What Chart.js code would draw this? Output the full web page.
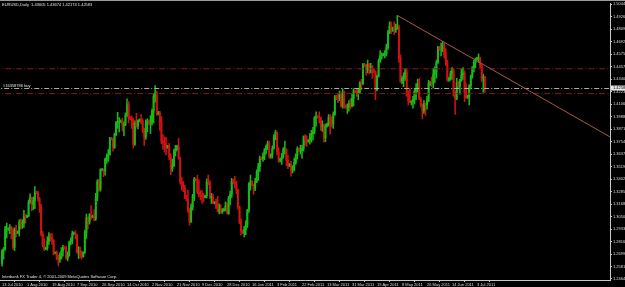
<!DOCTYPE html>
<html><head><meta charset="utf-8">
<script src="https://cdn.jsdelivr.net/npm/chart.js@4/dist/chart.umd.min.js"></script>
<style>html,body{margin:0;padding:0;background:#000;overflow:hidden}canvas{display:block}</style>
</head><body>
<canvas id="c" width="625" height="287"></canvas>
<script>
const symbolTitle = 'EURUSD,Daily  1.43605 1.43674 1.42174 1.42583';
const footerText = 'Interbank FX Trader 4, \u00A9 2001-2009 MetaQuotes Software Corp.';
const dateLabels = ['13 Jul 2010','1 Aug 2010','19 Aug 2010','7 Sep 2010','26 Sep 2010','14 Oct 2010','2 Nov 2010','21 Nov 2010','9 Dec 2010','28 Dec 2010','16 Jan 2011','3 Feb 2011','22 Feb 2011','13 Mar 2011','31 Mar 2011','19 Apr 2011','8 May 2011','26 May 2011','14 Jun 2011','3 Jul 2011'];
const dateTickIndex = [0,16,32,48,64,80,96,112,128,144,160,176,192,208,224,240,256,272,288,304];
const priceTicks = [1.50440,1.49268,1.48095,1.46923,1.45750,1.44578,1.43405,1.42233,1.41060,1.39888,1.38715,1.37543,1.36370,1.35198,1.34025,1.32853,1.31680,1.30508,1.29335,1.28163,1.26990,1.25818,1.24645];

const opens = [
1.2610,1.2730,1.2745,1.2935,1.2930,1.2935,1.2945,1.2925,1.2760,1.2930,
1.2900,1.2910,1.2995,1.2985,1.2990,1.3050,1.3045,1.3060,1.3185,1.3230,
1.3160,1.3200,1.3280,1.3275,1.3220,1.3155,1.2890,1.2780,1.2750,1.2755,
1.2820,1.2880,1.2850,1.2830,1.2710,1.2715,1.2665,1.2650,1.2670,1.2725,
1.2760,1.2755,1.2660,1.2685,1.2810,1.2830,1.2890,1.2895,1.2880,1.2720,
1.2725,1.2690,1.2675,1.2715,1.2900,1.3040,1.3000,1.3070,1.3050,1.3055,
1.3030,1.3230,1.3380,1.3310,1.3490,1.3495,1.3480,1.3590,1.3610,1.3630,
1.3790,1.3780,1.3700,1.3820,1.3930,1.3940,1.3940,1.3950,1.3910,1.3920,
1.4000,1.4100,1.3980,1.3970,1.3950,1.3730,1.3930,1.3900,1.3950,1.3960,
1.3950,1.3860,1.3800,1.3930,1.3945,1.3930,1.3930,1.4040,1.4180,1.4210,
1.4020,1.4025,1.3940,1.3760,1.3750,1.3730,1.3700,1.3710,1.3610,1.3500,
1.3530,1.3660,1.3680,1.3710,1.3600,1.3380,1.3340,1.3320,1.3240,1.3215,
1.3100,1.3000,1.3140,1.3240,1.3400,1.3395,1.3280,1.3260,1.3250,1.3240,
1.3230,1.3245,1.3380,1.3370,1.3230,1.3240,1.3180,1.3185,1.3130,1.3100,
1.3120,1.3100,1.3110,1.3120,1.3150,1.3080,1.3220,1.3260,1.3380,1.3370,
1.3350,1.3300,1.3140,1.3000,1.2910,1.2900,1.2930,1.2970,1.3110,1.3360,
1.3380,1.3350,1.3310,1.3380,1.3470,1.3520,1.3600,1.3595,1.3620,1.3680,
1.3710,1.3740,1.3620,1.3630,1.3690,1.3800,1.3840,1.3660,1.3580,1.3590,
1.3610,1.3680,1.3680,1.3580,1.3530,1.3540,1.3490,1.3520,1.3560,1.3630,
1.3690,1.3670,1.3670,1.3690,1.3800,1.3770,1.3760,1.3765,1.3800,1.3830,
1.3850,1.3980,1.3990,1.3985,1.3980,1.3900,1.3910,1.3790,1.3900,1.3920,
1.3980,1.3940,1.3920,1.4010,1.4180,1.4165,1.4160,1.4200,1.4090,1.4220,
1.4090,1.4080,1.4080,1.4110,1.4090,1.4160,1.4230,1.4225,1.4210,1.4220,
1.4310,1.4300,1.4480,1.4470,1.4430,1.4480,1.4440,1.4460,1.4430,1.4410,
1.4240,1.4370,1.4510,1.4560,1.4570,1.4575,1.4580,1.4640,1.4780,1.4840,
1.4800,1.4820,1.4810,1.4830,1.4830,1.4540,1.4320,1.4350,1.4350,1.4410,
1.4190,1.4140,1.4120,1.4130,1.4150,1.4230,1.4250,1.4300,1.4160,1.4100,
1.4040,1.4110,1.4100,1.4140,1.4300,1.4305,1.4300,1.4390,1.4410,1.4500,
1.4640,1.4620,1.4620,1.4660,1.4570,1.4510,1.4340,1.4350,1.4390,1.4420,
1.4190,1.4160,1.4310,1.4270,1.4330,1.4380,1.4400,1.4220,1.4170,1.4180,
1.4280,1.4370,1.4450,1.4500,1.4530,1.4540,1.4540,1.4470,1.4350,1.43605];

const highs = [
1.2740,1.2760,1.2960,1.2990,1.2945,1.2975,1.2960,1.2945,1.2945,1.2970,
1.2915,1.3020,1.3030,1.3020,1.3110,1.3075,1.3065,1.3205,1.3265,1.3235,
1.3235,1.3333,1.3290,1.3290,1.3230,1.3165,1.2915,1.2845,1.2765,1.2860,
1.2900,1.2890,1.2890,1.2835,1.2720,1.2730,1.2690,1.2710,1.2760,1.2780,
1.2770,1.2775,1.2720,1.2820,1.2850,1.2915,1.2905,1.2920,1.2885,1.2770,
1.2765,1.2730,1.2720,1.2925,1.3075,1.3045,1.3080,1.3155,1.3065,1.3115,
1.3270,1.3395,1.3400,1.3500,1.3505,1.3500,1.3600,1.3640,1.3680,1.3795,
1.3795,1.3785,1.3835,1.3945,1.4030,1.3980,1.3960,1.3975,1.3940,1.4025,
1.4157,1.4130,1.3990,1.3995,1.3975,1.3950,1.4020,1.3960,1.3970,1.4010,
1.3970,1.3880,1.3960,1.3970,1.3960,1.4000,1.4060,1.4200,1.4282,1.4230,
1.4040,1.4040,1.3990,1.3820,1.3800,1.3795,1.3720,1.3740,1.3640,1.3590,
1.3685,1.3720,1.3720,1.3785,1.3610,1.3420,1.3380,1.3345,1.3250,1.3300,
1.3125,1.3170,1.3260,1.3420,1.3410,1.3440,1.3395,1.3295,1.3295,1.3270,
1.3250,1.3405,1.3440,1.3390,1.3270,1.3260,1.3195,1.3215,1.3240,1.3170,
1.3160,1.3125,1.3130,1.3190,1.3180,1.3240,1.3290,1.3410,1.3400,1.3430,
1.3385,1.3310,1.3150,1.3030,1.2925,1.2960,1.3010,1.3120,1.3370,1.3440,
1.3390,1.3355,1.3410,1.3490,1.3550,1.3620,1.3610,1.3650,1.3690,1.3725,
1.3760,1.3760,1.3640,1.3715,1.3820,1.3862,1.3850,1.3700,1.3600,1.3645,
1.3700,1.3760,1.3690,1.3625,1.3550,1.3570,1.3530,1.3600,1.3640,1.3705,
1.3695,1.3720,1.3720,1.3810,1.3820,1.3810,1.3775,1.3830,1.3860,1.3890,
1.3990,1.4035,1.4000,1.4035,1.3985,1.3950,1.3920,1.3920,1.3930,1.4010,
1.4010,1.3990,1.4035,1.4190,1.4190,1.4210,1.4230,1.4210,1.4250,1.4230,
1.4100,1.4110,1.4140,1.4160,1.4200,1.4250,1.4240,1.4250,1.4245,1.4320,
1.4340,1.4490,1.4490,1.4480,1.4520,1.4490,1.4490,1.4470,1.4440,1.4420,
1.4380,1.4530,1.4610,1.4590,1.4585,1.4610,1.4670,1.4800,1.4880,1.4880,
1.4830,1.4880,1.4860,1.4940,1.4850,1.4570,1.4370,1.4400,1.4440,1.4440,
1.4230,1.4250,1.4140,1.4180,1.4250,1.4300,1.4340,1.4350,1.4170,1.4110,
1.4140,1.4120,1.4180,1.4330,1.4320,1.4360,1.4440,1.4460,1.4520,1.4650,
1.4650,1.4680,1.4698,1.4680,1.4630,1.4520,1.4360,1.4420,1.4450,1.4440,
1.4230,1.4350,1.4320,1.4340,1.4440,1.4450,1.4420,1.4300,1.4190,1.4290,
1.4380,1.4460,1.4520,1.4540,1.4550,1.4580,1.4550,1.4480,1.4390,1.43674];

const lows = [
1.2585,1.2650,1.2735,1.2850,1.2920,1.2890,1.2840,1.2745,1.2730,1.2860,
1.2890,1.2870,1.2935,1.2940,1.2950,1.2990,1.3040,1.3050,1.3175,1.3105,
1.3115,1.3125,1.3265,1.3195,1.3090,1.2870,1.2765,1.2730,1.2740,1.2735,
1.2790,1.2820,1.2790,1.2690,1.2700,1.2645,1.2588,1.2620,1.2650,1.2680,
1.2745,1.2650,1.2635,1.2680,1.2785,1.2795,1.2880,1.2840,1.2705,1.2655,
1.2665,1.2650,1.2670,1.2705,1.2845,1.2935,1.2980,1.3025,1.3040,1.3010,
1.3015,1.3200,1.3290,1.3290,1.3480,1.3425,1.3440,1.3550,1.3570,1.3630,
1.3770,1.3665,1.3690,1.3810,1.3880,1.3845,1.3935,1.3855,1.3810,1.3905,
1.3990,1.3930,1.3960,1.3880,1.3695,1.3720,1.3890,1.3875,1.3940,1.3920,
1.3840,1.3720,1.3775,1.3845,1.3915,1.3830,1.3910,1.3930,1.4125,1.4000,
1.4005,1.3860,1.3735,1.3685,1.3655,1.3630,1.3690,1.3585,1.3445,1.3475,
1.3520,1.3620,1.3670,1.3590,1.3355,1.3300,1.3285,1.3220,1.3200,1.3090,
1.2969,1.2995,1.3110,1.3200,1.3385,1.3265,1.3235,1.3210,1.3175,1.3190,
1.3225,1.3225,1.3350,1.3220,1.3175,1.3170,1.3170,1.3125,1.3095,1.3075,
1.3080,1.3080,1.3100,1.3105,1.3075,1.3070,1.3160,1.3230,1.3360,1.3320,
1.3265,1.3120,1.2985,1.2875,1.2890,1.2860,1.2880,1.2950,1.3090,1.3300,
1.3340,1.3260,1.3295,1.3370,1.3390,1.3475,1.3585,1.3570,1.3585,1.3640,
1.3680,1.3600,1.3600,1.3600,1.3685,1.3770,1.3630,1.3560,1.3565,1.3540,
1.3600,1.3640,1.3530,1.3500,1.3520,1.3430,1.3460,1.3480,1.3540,1.3590,
1.3660,1.3640,1.3600,1.3665,1.3720,1.3710,1.3750,1.3730,1.3750,1.3770,
1.3830,1.3900,1.3975,1.3930,1.3860,1.3850,1.3750,1.3755,1.3890,1.3900,
1.3825,1.3890,1.3880,1.4000,1.4150,1.4120,1.4140,1.4080,1.4070,1.4070,
1.4070,1.4020,1.4040,1.4060,1.4080,1.4090,1.4215,1.4180,1.4150,1.4210,
1.4240,1.4290,1.4460,1.4380,1.4400,1.4390,1.4400,1.4350,1.4400,1.4150,
1.4230,1.4360,1.4500,1.4530,1.4560,1.4540,1.4560,1.4620,1.4770,1.4770,
1.4790,1.4760,1.4780,1.4810,1.4500,1.4310,1.4300,1.4270,1.4330,1.4180,
1.4100,1.4120,1.4100,1.4070,1.4110,1.4150,1.4220,1.4150,1.4080,1.3968,
1.4020,1.4000,1.4060,1.4130,1.4280,1.4270,1.4260,1.4310,1.4350,1.4490,
1.4610,1.4560,1.4600,1.4540,1.4470,1.4320,1.4320,1.4330,1.4340,1.4180,
1.4010,1.4150,1.4260,1.4200,1.4320,1.4340,1.4130,1.4160,1.4160,1.4100,
1.4250,1.4350,1.4410,1.4450,1.4520,1.4500,1.4450,1.4320,1.4220,1.42174];

const closes = [
1.2730,1.2745,1.2935,1.2935,1.2935,1.2945,1.2925,1.2760,1.2930,1.2905,
1.2910,1.2995,1.2985,1.2990,1.3050,1.3045,1.3060,1.3185,1.3230,1.3160,
1.3200,1.3280,1.3275,1.3220,1.3155,1.2890,1.2780,1.2750,1.2755,1.2820,
1.2880,1.2850,1.2830,1.2710,1.2715,1.2665,1.2650,1.2670,1.2725,1.2760,
1.2755,1.2660,1.2685,1.2810,1.2830,1.2890,1.2895,1.2880,1.2720,1.2725,
1.2690,1.2675,1.2715,1.2900,1.3040,1.3000,1.3070,1.3050,1.3055,1.3030,
1.3230,1.3380,1.3310,1.3490,1.3495,1.3480,1.3590,1.3610,1.3630,1.3790,
1.3780,1.3700,1.3820,1.3930,1.3940,1.3940,1.3950,1.3910,1.3920,1.4000,
1.4100,1.3980,1.3970,1.3950,1.3730,1.3930,1.3900,1.3950,1.3960,1.3950,
1.3860,1.3800,1.3930,1.3945,1.3930,1.3930,1.4040,1.4180,1.4210,1.4020,
1.4025,1.3940,1.3760,1.3750,1.3730,1.3700,1.3710,1.3610,1.3500,1.3530,
1.3660,1.3680,1.3710,1.3600,1.3380,1.3340,1.3320,1.3240,1.3215,1.3100,
1.3000,1.3140,1.3240,1.3400,1.3395,1.3280,1.3260,1.3250,1.3240,1.3230,
1.3245,1.3380,1.3370,1.3230,1.3240,1.3180,1.3185,1.3130,1.3100,1.3120,
1.3100,1.3110,1.3120,1.3150,1.3080,1.3220,1.3260,1.3380,1.3370,1.3350,
1.3300,1.3140,1.3000,1.2910,1.2900,1.2930,1.2970,1.3110,1.3360,1.3380,
1.3350,1.3310,1.3380,1.3470,1.3520,1.3600,1.3595,1.3620,1.3680,1.3710,
1.3740,1.3620,1.3630,1.3690,1.3800,1.3840,1.3660,1.3580,1.3590,1.3610,
1.3680,1.3680,1.3580,1.3530,1.3540,1.3490,1.3520,1.3560,1.3630,1.3690,
1.3670,1.3670,1.3690,1.3800,1.3770,1.3760,1.3765,1.3800,1.3830,1.3850,
1.3980,1.3990,1.3985,1.3980,1.3900,1.3910,1.3790,1.3900,1.3920,1.3980,
1.3940,1.3920,1.4010,1.4180,1.4165,1.4160,1.4200,1.4090,1.4220,1.4090,
1.4080,1.4080,1.4110,1.4090,1.4160,1.4230,1.4225,1.4210,1.4220,1.4310,
1.4300,1.4480,1.4470,1.4430,1.4480,1.4440,1.4460,1.4430,1.4410,1.4240,
1.4370,1.4510,1.4560,1.4570,1.4575,1.4580,1.4640,1.4780,1.4840,1.4800,
1.4820,1.4810,1.4830,1.4830,1.4540,1.4320,1.4350,1.4350,1.4410,1.4190,
1.4140,1.4120,1.4130,1.4150,1.4230,1.4250,1.4300,1.4160,1.4100,1.4040,
1.4110,1.4100,1.4140,1.4300,1.4305,1.4300,1.4390,1.4410,1.4500,1.4640,
1.4620,1.4620,1.4660,1.4570,1.4510,1.4340,1.4350,1.4390,1.4420,1.4190,
1.4160,1.4310,1.4270,1.4330,1.4380,1.4400,1.4220,1.4170,1.4180,1.4280,
1.4370,1.4450,1.4500,1.4530,1.4540,1.4540,1.4470,1.4350,1.4360,1.42583];

const levelLines = [1.4439, 1.4206];
const orderPrice = 1.4254;
const orderLabel = '#16358786 buy';
const bidPrice = 1.42583;
const trendStart = {x: 253, y: 1.4940};
const trendEnd = {x: 389, y: 1.3800};

const FONT = 'Liberation Sans';
const idx = opens.map((_, i) => i);
const candleColors = idx.map(i => closes[i] >= opens[i] ? '#17bb17' : '#d01212');

const chromePlugin = {
  id: 'chrome',
  beforeDraw(chart) {
    const c = chart.ctx;
    c.save();
    c.fillStyle = '#000';
    c.fillRect(0, 0, chart.width, chart.height);
    c.fillStyle = '#9a9a9a';
    c.fillRect(0, 0, chart.width, 1);
    c.restore();
  },
  afterDraw(chart) {
    const c = chart.ctx, y = chart.scales.y, a = chart.chartArea;
    c.save();
    c.font = '4px "' + FONT + '"';
    c.textBaseline = 'middle';
    c.textAlign = 'left';
    c.fillStyle = '#e0e0e0';
    c.fillText(symbolTitle, 2, 4.5);
    c.fillText(footerText, 2, 276.5);
    c.fillText(orderLabel, 3, y.getPixelForValue(orderPrice) - 3);
    const by = y.getPixelForValue(bidPrice);
    c.fillStyle = '#e8e8e8';
    c.fillRect(a.right + 1, by - 2.5, chart.width - a.right - 1, 5);
    c.fillStyle = '#000';
    c.fillText(bidPrice.toFixed(5), a.right + 3, by);
    c.restore();
  }
};

const hLine = (v, color, dash) => ({
  type: 'line', data: [{x: -5, y: v}, {x: 400, y: v}], borderColor: color,
  borderWidth: 1, borderDash: dash, pointRadius: 0, fill: false, order: 0
});

new Chart(document.getElementById('c'), {
  type: 'bar',
  data: {
    datasets: [
      {type: 'line', data: [trendStart, trendEnd], borderColor: '#a85848', borderWidth: 1, pointRadius: 0, fill: false, order: 0},
      ...levelLines.map(v => hLine(v, '#7e1c1c', [6, 2, 1, 2])),
      hLine(orderPrice, '#aab4aa', [5, 2, 1, 2]),
      {type: 'bar', data: idx.map(i => ({x: i, y: [opens[i], closes[i]]})), backgroundColor: candleColors, barThickness: 1.3, grouped: false, order: 1},
      {type: 'bar', data: idx.map(i => ({x: i, y: [lows[i], highs[i]]})), backgroundColor: candleColors, barThickness: 0.9, grouped: false, order: 2}
    ]
  },
  options: {
    responsive: false, animation: false, devicePixelRatio: 1,
    layout: {padding: {top: 1, left: 0, right: 0, bottom: 0}},
    plugins: {legend: {display: false}, tooltip: {enabled: false}, title: {display: false}},
    scales: {
      x: {
        type: 'linear', min: -1.3, max: 389.1, offset: false,
        grid: {display: true, drawOnChartArea: false, tickLength: 2, color: '#c8c8c8'},
        border: {display: true, color: '#c8c8c8'},
        ticks: {autoSkip: false, maxRotation: 0, minRotation: 0, align: 'start', padding: 0, color: '#dcdcdc',
          font: {family: FONT, size: 4},
          callback: v => dateLabels[dateTickIndex.indexOf(v)] || ''},
        afterBuildTicks: s => { s.ticks = dateTickIndex.map(v => ({value: v})); },
        afterFit: s => { s.height = 7; }
      },
      y: {
        position: 'right', min: 1.2455, max: 1.50533,
        grid: {display: true, drawOnChartArea: false, tickLength: 2, color: '#c8c8c8'},
        border: {display: true, color: '#c8c8c8'},
        ticks: {autoSkip: false, padding: 1, color: '#dcdcdc', font: {family: FONT, size: 4},
          callback: v => v.toFixed(5)},
        afterBuildTicks: s => { s.ticks = priceTicks.map(v => ({value: v})); },
        afterFit: s => { s.width = 15; }
      }
    }
  },
  plugins: [chromePlugin]
});
</script>
</body></html>
